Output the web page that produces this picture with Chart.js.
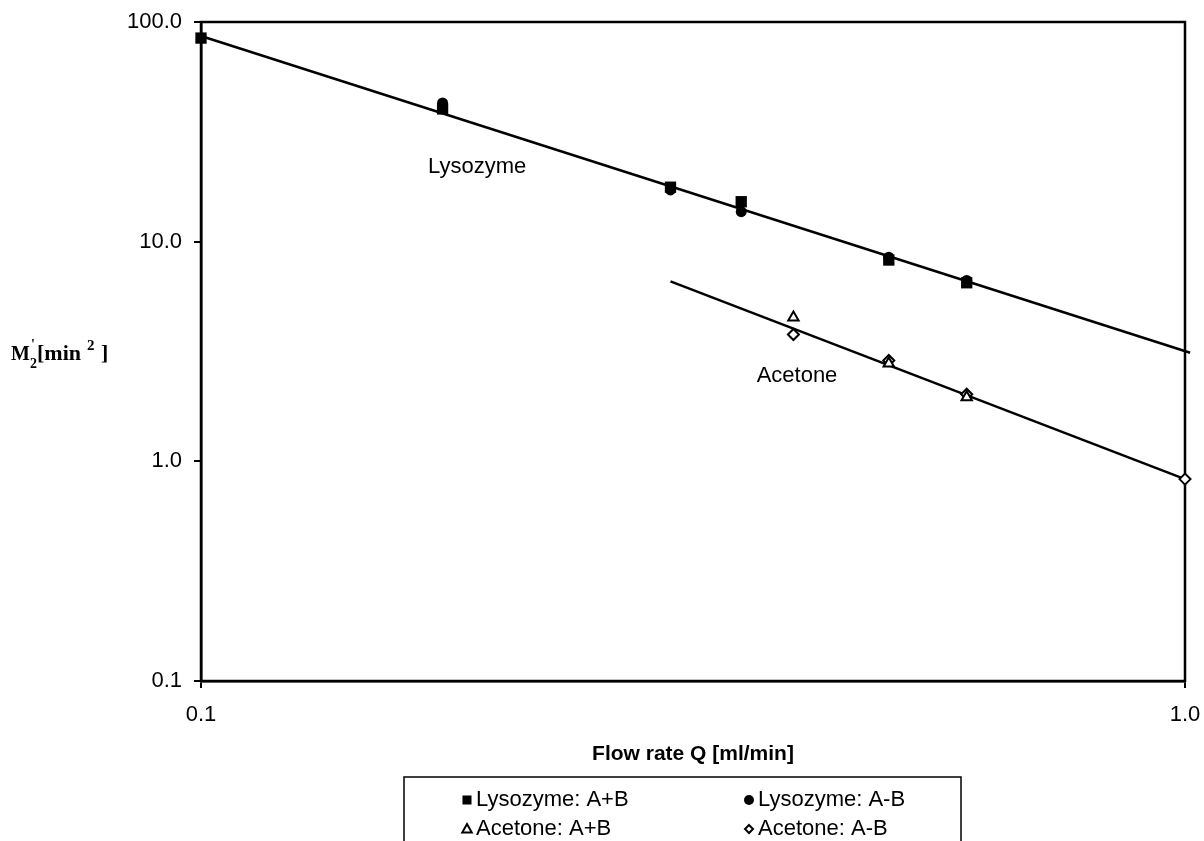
<!DOCTYPE html>
<html>
<head>
<meta charset="utf-8">
<script src="https://cdn.jsdelivr.net/npm/chart.js@4.4.0/dist/chart.umd.min.js"></script>
<style>
html, body { margin: 0; padding: 0; background: #fff; }
#wrap { width: 1204px; height: 841px; }
</style>
</head>
<body>
<div id="wrap"><canvas id="chart" width="1204" height="841"></canvas></div>
<script>
"use strict";

// flow rate Q [ml/min] and M'2 [min^2]
var lysoFlowAplusB = [0.1, 0.176, 0.3, 0.354, 0.5, 0.6];
var lysoAplusB = [84.5, 40.2, 17.7, 15.2, 8.25, 6.5];
var lysoFlowAminusB = [0.176, 0.3, 0.354, 0.5, 0.6];
var lysoAminusB = [42.8, 17.2, 13.7, 8.5, 6.66];
var acetFlowAplusB = [0.4, 0.5, 0.6];
var acetAplusB = [4.52, 2.79, 1.96];
var acetFlowAminusB = [0.4, 0.5, 0.6, 1.0];
var acetAminusB = [3.78, 2.88, 2.02, 0.83];

// fitted lines, end points
var lysoFitFlow = [0.1, 1.012];
var lysoFit = [86.4, 3.12];
var acetFitFlow = [0.3, 1.0];
var acetFit = [6.59, 0.83];

var xTicks = [0.1, 1.0];
var yTicks = [0.1, 1, 10, 100];

var seriesNames = ['Lysozyme: A+B', 'Lysozyme: A-B', 'Acetone: A+B', 'Acetone: A-B'];

function pts(xs, ys) {
    return xs.map(function(x, i) { return {x: x, y: ys[i]}; });
}

var SANS = '"Liberation Sans", Arial, sans-serif';
var SERIF = '"Liberation Serif", "Times New Roman", serif';

function marker(ctx, style, x, y, s) {
    ctx.save();
    ctx.fillStyle = '#000';
    ctx.strokeStyle = '#000';
    ctx.lineWidth = 2;
    ctx.beginPath();
    if (style == 'rect') {
        ctx.fillRect(x - s, y - s, 2 * s, 2 * s);
    } else if (style == 'circle') {
        ctx.arc(x, y, s, 0, Math.PI * 2);
        ctx.fill();
    } else if (style == 'triangle') {
        ctx.moveTo(x, y - s);
        ctx.lineTo(x + s * 0.95, y + s * 0.7);
        ctx.lineTo(x - s * 0.95, y + s * 0.7);
        ctx.closePath();
        ctx.stroke();
    } else {
        ctx.moveTo(x, y - s);
        ctx.lineTo(x + s, y);
        ctx.lineTo(x, y + s);
        ctx.lineTo(x - s, y);
        ctx.closePath();
        ctx.stroke();
    }
    ctx.restore();
}

var decorations = {
    id: 'decorations',
    beforeDatasetsDraw: function(chart) {
        var ctx = chart.ctx;
        var a = chart.chartArea;
        // plot frame
        ctx.save();
        ctx.strokeStyle = '#000';
        ctx.lineWidth = 2.5;
        ctx.strokeRect(a.left, a.top, a.right - a.left, a.bottom - a.top);
        ctx.restore();
    },
    afterDatasetsDraw: function(chart) {
        var ctx = chart.ctx;
        var xs = chart.scales.x, ys = chart.scales.y;

        ctx.save();
        // curve labels
        ctx.fillStyle = '#000';
        ctx.font = '22px ' + SANS;
        ctx.textBaseline = 'middle';
        ctx.textAlign = 'left';
        ctx.fillText('Lysozyme', xs.getPixelForValue(0.1701), ys.getPixelForValue(21.9));
        ctx.fillText('Acetone', xs.getPixelForValue(0.367), ys.getPixelForValue(2.44));

        // y axis title  M'2 [min^2]
        ctx.textBaseline = 'alphabetic';
        ctx.font = 'bold 20px ' + SERIF;
        ctx.fillText('M', 11, 360);
        ctx.font = 'bold 14px ' + SERIF;
        ctx.fillText("'", 31, 349);
        ctx.fillText('2', 30, 368);
        ctx.font = 'bold 22px ' + SERIF;
        ctx.fillText('[min', 37, 360);
        ctx.font = 'bold 15px ' + SERIF;
        ctx.fillText('2', 87, 350);
        ctx.font = 'bold 22px ' + SERIF;
        ctx.fillText(']', 101, 360);

        // legend box
        ctx.lineWidth = 1.5;
        ctx.strokeRect(404, 777, 557, 90);
        var styles = ['rect', 'circle', 'triangle', 'rectRot'];
        var sizes = [4.5, 5, 5, 4];
        var colX = [467, 749];
        var rowY = [800, 829];
        ctx.font = '22px ' + SANS;
        ctx.textBaseline = 'middle';
        for (var i = 0; i < 4; i++) {
            var cx = colX[i % 2], cy = rowY[Math.floor(i / 2)];
            marker(ctx, styles[i], cx, cy, sizes[i]);
            ctx.fillStyle = '#000';
            ctx.fillText(seriesNames[i], cx + 9, cy);
        }
        ctx.restore();
    }
};

var ctx = document.getElementById('chart').getContext('2d');
var chart = new Chart(ctx, {
    type: 'scatter',
    data: {
        datasets: [
            {
                label: seriesNames[0],
                data: pts(lysoFlowAplusB, lysoAplusB),
                pointStyle: 'rect', pointRadius: 8,
                backgroundColor: '#000', borderColor: '#000', borderWidth: 0,
                clip: false
            },
            {
                label: seriesNames[1],
                data: pts(lysoFlowAminusB, lysoAminusB),
                pointStyle: 'circle', pointRadius: 5.5,
                backgroundColor: '#000', borderColor: '#000', borderWidth: 0,
                clip: false
            },
            {
                label: seriesNames[2],
                data: pts(acetFlowAplusB, acetAplusB),
                pointStyle: 'triangle', pointRadius: 6,
                backgroundColor: '#fff', borderColor: '#000', borderWidth: 2,
                clip: false
            },
            {
                label: seriesNames[3],
                data: pts(acetFlowAminusB, acetAminusB),
                pointStyle: 'rectRot', pointRadius: 5.5,
                backgroundColor: '#fff', borderColor: '#000', borderWidth: 2,
                clip: false
            },
            {
                label: 'fit lysozyme',
                type: 'line',
                data: pts(lysoFitFlow, lysoFit),
                borderColor: '#000', borderWidth: 2.5, pointRadius: 0, fill: false,
                clip: false
            },
            {
                label: 'fit acetone',
                type: 'line',
                data: pts(acetFitFlow, acetFit),
                borderColor: '#000', borderWidth: 2.5, pointRadius: 0, fill: false,
                clip: false
            }
        ]
    },
    options: {
        responsive: false,
        animation: false,
        layout: { padding: { left: 0, right: 19, top: 22, bottom: 0 } },
        plugins: {
            legend: { display: false },
            tooltip: { enabled: false }
        },
        scales: {
            x: {
                type: 'logarithmic',
                min: 0.1,
                max: 1.0,
                afterBuildTicks: function(scale) {
                    scale.ticks = xTicks.map(function(v) { return {value: v}; });
                },
                afterFit: function(scale) {
                    scale.height = 160;
                    scale.paddingLeft = 0;
                    scale.paddingRight = 0;
                },
                ticks: {
                    color: '#000',
                    font: { family: SANS, size: 22 },
                    padding: 14,
                    maxRotation: 0,
                    callback: function(v) { return Number(v).toFixed(1); }
                },
                grid: { display: true, drawOnChartArea: false, drawTicks: true, tickLength: 7, color: '#000', lineWidth: 2 },
                border: { display: true, color: '#000', width: 2.5 },
                title: {
                    display: true,
                    text: 'Flow rate Q [ml/min]',
                    color: '#000',
                    font: { family: SANS, size: 21, weight: 'bold' },
                    padding: { top: 0, bottom: 74 }
                }
            },
            y: {
                type: 'logarithmic',
                min: 0.1,
                max: 100,
                afterBuildTicks: function(scale) {
                    scale.ticks = yTicks.map(function(v) { return {value: v}; });
                },
                afterFit: function(scale) {
                    scale.width = 201;
                    scale.paddingTop = 0;
                    scale.paddingBottom = 0;
                },
                ticks: {
                    color: '#000',
                    font: { family: SANS, size: 22 },
                    padding: 12,
                    callback: function(v) { return Number(v).toFixed(1); }
                },
                grid: { display: true, drawOnChartArea: false, drawTicks: true, tickLength: 7, color: '#000', lineWidth: 2 },
                border: { display: true, color: '#000', width: 2.5 }
            }
        }
    },
    plugins: [decorations]
});
</script>
</body>
</html>
